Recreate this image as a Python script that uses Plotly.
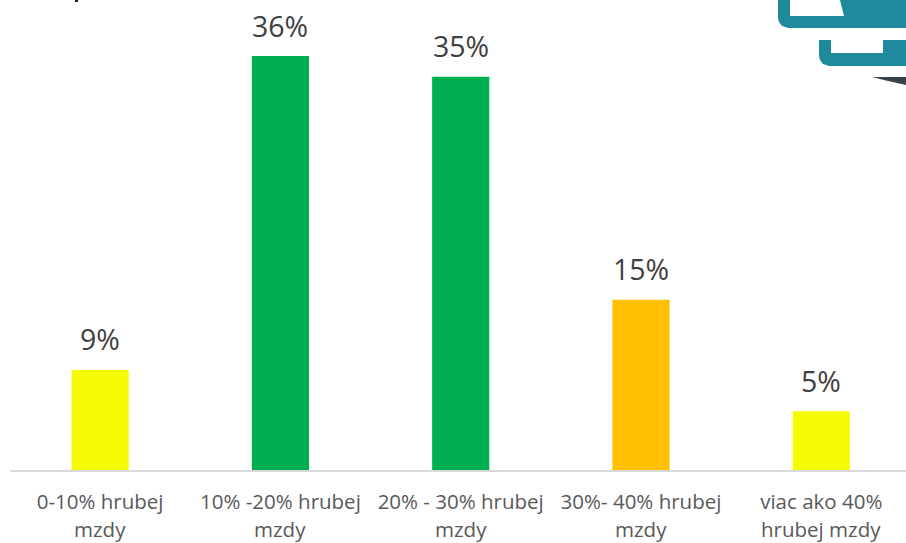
import plotly.graph_objects as go

categories = ["0-10% hrubej", "10% -20% hrubej", "20% - 30% hrubej", "30%- 40% hrubej", "viac ako 40%"]
second_lines = ["mzdy", "mzdy", "mzdy", "mzdy", "hrubej mzdy"]
values = [8.7, 36, 34.2, 14.8, 5.1]
labels = ["9%", "36%", "35%", "15%", "5%"]
colors = ["#F4FB05", "#00B050", "#00B050", "#FFC000", "#F4FB05"]

W, H = 906, 543
ML, MB = 10, 73
PW, PH = W - ML, H - MB
FONT = "Open Sans"
TICK_SIZE = 20.5
LABEL_SIZE = 28.5


def X(p):
    return (p - ML) / PW


def Y(p):
    return (PH - p) / PH


def path(points, close=True):
    d = "M" + " L".join(f"{X(a):.5f},{Y(b):.5f}" for a, b in points)
    return d + (" Z" if close else "")


TEAL = "#1F8A9C"


def poly(points, color):
    return dict(type="path", xref="paper", yref="paper", path=path(points),
                fillcolor=color, line=dict(width=0), layer="above")


logo = [
    poly([(778, 0), (906, 0), (906, 28), (788, 28), (782, 26), (779, 22), (778, 18)], TEAL),
    poly([(790, 0), (840, 0), (844, 16), (790, 16)], "#FFFFFF"),
    poly([(819, 40), (906, 40), (906, 66), (829, 66), (823, 64), (820, 60), (819, 56)], TEAL),
    poly([(831, 40), (883, 40), (883, 53), (831, 53)], "#FFFFFF"),
    poly([(872, 77), (906, 77), (906, 85), (888, 81)], "#3A4248"),
    poly([(75, 0), (78, 0), (78, 2), (75, 2)], "#222222"),
]

fig = go.Figure(go.Bar(
    x=list(range(len(categories))),
    y=values,
    width=0.317,
    marker=dict(color=colors, line=dict(width=0)),
    hoverinfo="skip",
))

annotations = [
    dict(x=i, y=0, xref="x", yref="paper", text=t, showarrow=False, xanchor="center",
         yanchor="middle", yshift=-59,
         font=dict(family=FONT, size=TICK_SIZE, color="#595959"))
    for i, t in enumerate(second_lines)
] + [
    dict(x=i, y=v, xref="x", yref="y", text=t, showarrow=False, xanchor="center",
         yanchor="middle", yshift=30.5, font=dict(family=FONT, size=LABEL_SIZE, color="#404040"))
    for i, (v, t) in enumerate(zip(values, labels))
]

fig.update_layout(
    width=W, height=H,
    margin=dict(l=ML, r=0, t=0, b=MB, pad=0),
    paper_bgcolor="#FFFFFF",
    plot_bgcolor="#FFFFFF",
    showlegend=False,
    shapes=logo,
    annotations=annotations,
    xaxis=dict(
        range=[-0.5, 4.47],
        tickmode="array",
        tickvals=list(range(len(categories))),
        ticktext=categories,
        ticks="",
        ticklabelstandoff=12,
        tickfont=dict(family=FONT, size=TICK_SIZE, color="#595959"),
        showgrid=False,
        zeroline=False,
        showline=True,
        linecolor="#D9D9D9",
        linewidth=2,
    ),
    yaxis=dict(range=[0, 40.87], visible=False, showgrid=False, zeroline=False),
)

fig.write_html("out.html", config=dict(displayModeBar=False),
               post_script="document.body.style.margin='0';document.documentElement.style.overflow='hidden';")
